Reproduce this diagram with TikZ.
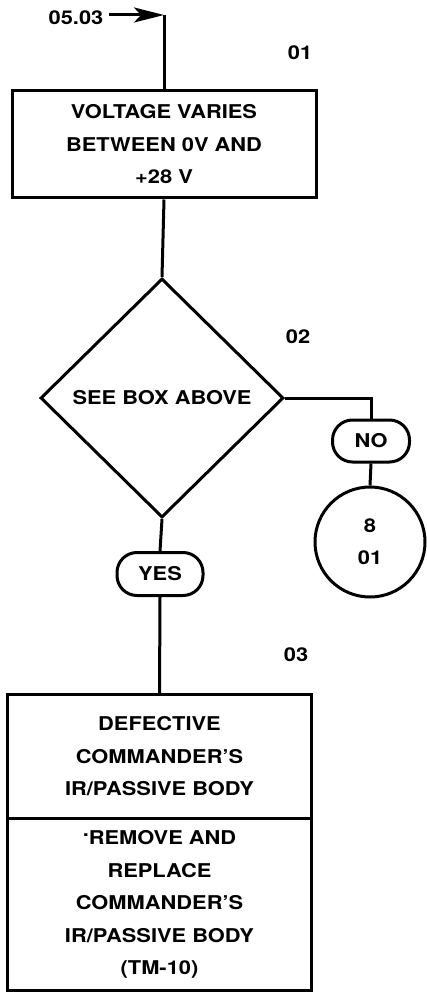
\documentclass[tikz,border=0pt]{standalone}
\usepackage{fontspec}
\setmainfont[FakeStretch=1.15]{TeX Gyre Heros}
\usetikzlibrary{shapes.geometric,arrows.meta}
\begin{document}
\begin{tikzpicture}[x=1pt,y=-1pt,
  lw/.style={line width=3pt},
  txt/.style={font=\fontsize{19}{32.5}\selectfont\bfseries, align=center},
  boxnode/.style={lw, draw, rectangle, inner sep=0pt, txt},
  plain/.style={rectangle, inner sep=0pt, txt},
  oval/.style={lw, draw, rectangle, rounded corners=20pt, inner sep=0pt, txt},
  lbl/.style={font=\fontsize{19}{20}\selectfont\bfseries, inner sep=0pt}]
\useasboundingbox (0,0) rectangle (427,992);
% entry
\node[lbl] (entry) at (76,18) {05.03};
\coordinate (corner) at (164,15);
\node[boxnode, minimum width=304pt, minimum height=107pt] (b1) at (164,144.5) {VOLTAGE VARIES\\BETWEEN 0V AND\\+28 V};
\node[lbl] (n01) at (300,53) {01};
% diamond
\node[lw, draw, diamond, inner sep=0pt, minimum width=243pt, minimum height=239pt, txt] (d) at (162,398) {SEE BOX ABOVE};
\node[lbl] (n02) at (298,337) {02};
% NO branch
\node[oval, minimum width=77pt, minimum height=42pt] (no) at (371,441) {NO};
\node[lw, draw, circle, minimum size=110pt, inner sep=0pt, font=\fontsize{19}{32}\selectfont\bfseries, align=center] (c) at (370,542) {8\\01};
% YES branch
\node[oval, minimum width=86pt, minimum height=43pt] (yes) at (160,574) {YES};
\node[lbl] (n03) at (296,655) {03};
\node[plain, minimum width=303pt, minimum height=123pt] (b2a) at (159.5,756.5) {DEFECTIVE\\COMMANDER'S\\IR/PASSIVE BODY};
\node[plain, minimum width=303pt, minimum height=172pt, anchor=north] (b2b) at (b2a.south) {\raisebox{0.45em}{.}REMOVE AND\\REPLACE\\COMMANDER'S\\IR/PASSIVE BODY\\(TM-10)};
\draw[lw] (b2a.north west) rectangle (b2b.south east);
\draw[lw] (b2a.south west) -- (b2a.south east);
% connectors
\draw[lw, -{Stealth[length=30pt,width=15pt,inset=7pt]}] (entry.east) ++(5,-3) -- (corner);
\draw[lw] (corner) -- (b1.north);
\draw[lw] (b1.south) -- (d.north);
\draw[lw] (d.east) -| (no.north);
\draw[lw] (no.south) -- (c.north);
\draw[lw] (d.south) -- (yes.north);
\draw[lw] (yes.south) -- (b2a.north);
\end{tikzpicture}
\end{document}
